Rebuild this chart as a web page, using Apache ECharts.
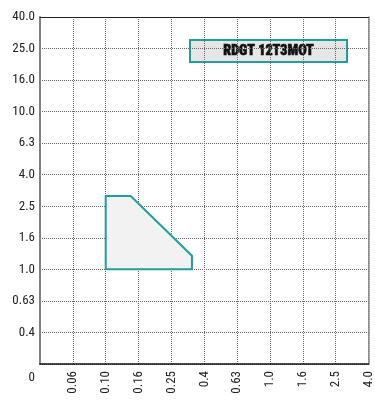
<!DOCTYPE html>
<html>
<head>
<meta charset="utf-8">
<style>html,body{margin:0;padding:0;background:#fff;}#c{width:375px;height:409px;}</style>
<script src="https://cdn.jsdelivr.net/npm/echarts@6/dist/echarts.min.js"></script>
</head>
<body>
<div id="c"></div>
<script>
// Tick labels (R5 preferred-number steps, evenly spaced on a log scale)
var xTicks = ['0', '0.06', '0.10', '0.16', '0.25', '0.4', '0.63', '1.0', '1.6', '2.5', '4.0'];
var yTicks = ['0', '0.4', '0.63', '1.0', '1.6', '2.5', '4.0', '6.3', '10.0', '16.0', '25.0', '40.0'];
// Operating region polygon (real values)
var regionX = [0.10, 0.142, 0.335, 0.335, 0.10];
var regionY = [2.92, 2.92, 1.22, 1.0, 1.0];
var label = 'RDGT 12T3MOT';

// log-step scale: each tick step is a factor 10^0.2
function xPos(v) { return 5 * Math.log10(v) + 7; }
function yPos(v) { return 5 * Math.log10(v) + 3; }

var FONT = "'Roboto Condensed', 'DejaVu Sans Condensed', sans-serif";
var polyData = regionX.map(function (x, i) { return [xPos(x), yPos(regionY[i])]; });

var chart = echarts.init(document.getElementById('c'), null, { renderer: 'canvas' });
chart.setOption({
  animation: false,
  grid: { left: 40, right: 5, top: 17, bottom: 45, containLabel: false },
  xAxis: [{
    type: 'value', min: 0, max: 10, interval: 1,
    axisLine: { show: true, lineStyle: { color: '#111', width: 1.5 } },
    axisTick: { show: false },
    axisLabel: {
      rotate: 90, margin: 7, fontFamily: FONT, fontSize: 13, color: '#222',
      formatter: function (v) { return v === 0 ? '' : xTicks[Math.round(v)]; }
    },
    splitLine: { show: true, lineStyle: { type: 'dotted', color: '#666', width: 1 } }
  }, {
    type: 'value', position: 'top', min: 0, max: 10, interval: 1,
    axisLine: { show: true, onZero: false, lineStyle: { color: '#222', width: 1 } },
    axisTick: { show: false }, axisLabel: { show: false }, splitLine: { show: false }
  }],
  yAxis: [{
    type: 'value', min: 0, max: 11, interval: 1,
    axisLine: { show: true, lineStyle: { color: '#808080', width: 2 } },
    axisTick: { show: false },
    axisLabel: {
      margin: 5, fontFamily: FONT, fontSize: 13, color: '#222',
      formatter: function (v) {
        var i = Math.round(v);
        return i === 0 ? '{z|' + yTicks[0] + '}' : yTicks[i];
      },
      rich: { z: { fontFamily: FONT, fontSize: 13, color: '#222', padding: [27, 0, 0, 0] } }
    },
    splitLine: { show: true, lineStyle: { type: 'dotted', color: '#666', width: 1 } }
  }, {
    type: 'value', position: 'right', min: 0, max: 11, interval: 1,
    axisLine: { show: true, onZero: false, lineStyle: { color: '#888', width: 1.5 } },
    axisTick: { show: false }, axisLabel: { show: false }, splitLine: { show: false }
  }],
  series: [{
    type: 'custom',
    coordinateSystem: 'cartesian2d',
    data: [0],
    renderItem: function (params, api) {
      var pts = polyData.map(function (p) { return api.coord(p); });
      return {
        type: 'polygon',
        shape: { points: pts },
        style: { fill: '#f2f2f2', stroke: '#1f9e9e', lineWidth: 2 }
      };
    }
  }],
  graphic: [{
    type: 'group', left: 189, top: 39,
    children: [{
      type: 'rect', shape: { x: 0, y: 0, width: 157, height: 22 },
      style: { fill: '#e6e6e6', stroke: '#1f9e9e', lineWidth: 2 }
    }, {
      type: 'text', x: 78.5, y: 11,
      style: { text: label, fontFamily: FONT, fontWeight: 900, fontSize: 14, fill: '#111', stroke: '#111', lineWidth: 0.6, align: 'center', verticalAlign: 'middle' }
    }]
  }]
});
</script>
</body>
</html>
